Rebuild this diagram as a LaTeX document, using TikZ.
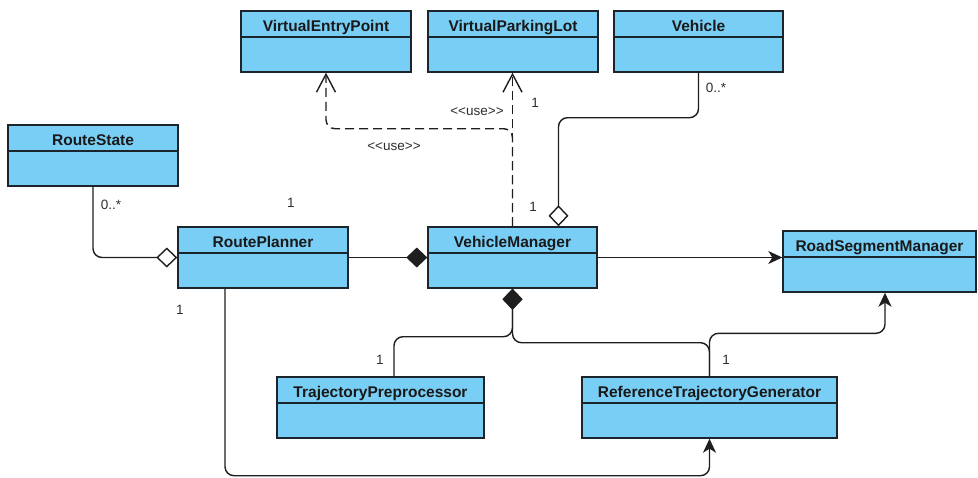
\documentclass[tikz,border=0pt]{standalone}
\usepackage{fontspec}
\setmainfont{Liberation Sans}
\usetikzlibrary{arrows.meta}
\definecolor{classfill}{RGB}{120,206,244}
\definecolor{classedge}{RGB}{28,36,44}
\definecolor{linkline}{RGB}{30,30,30}
\definecolor{multtext}{RGB}{45,45,45}
\newcommand{\stereo}[1]{<\kern0pt<#1>\kern0pt>}
\tikzset{classbox/.style={draw=classedge,fill=classfill,line width=1.4pt,
  font=\fontsize{15.5}{17}\selectfont\bfseries,text=black!90,
  inner ysep=0pt,text height=20pt,text depth=41pt,minimum width=#1,
  path picture={\draw[classedge,line width=1.4pt]
   ([yshift=-26pt]path picture bounding box.north west)--
   ([yshift=-26pt]path picture bounding box.north east);}},
 link/.style={draw=linkline,line width=1.4pt,rounded corners=9pt},
 usedep/.style={link,dash pattern=on 9pt off 5pt,-{Straight Barb[length=18pt,width=19pt]}},
 aggrend/.style={-{Diamond[fill=white,length=21pt,width=20pt]}},
 compend/.style={-{Diamond[length=21pt,width=20pt]}},
 compstart/.style={{Diamond[length=21pt,width=20pt]}-},
 navend/.style={-{Stealth[length=14pt,width=13pt,inset=4pt]}},
 mult/.style={font=\fontsize{13.5}{15}\selectfont,text=multtext,inner sep=0pt}}

\begin{document}
\begin{tikzpicture}[x=1pt,y=-1pt]
\useasboundingbox (0,0) rectangle (978,477);
\node[classbox=170pt] (vep) at (326,41.5) {VirtualEntryPoint};
\node[classbox=170pt] (vpl) at (513,41.5) {VirtualParkingLot};
\node[classbox=169pt] (veh) at (698.5,41.5) {Vehicle};
\node[classbox=170pt] (rs) at (93,155.5) {RouteState};
\node[classbox=170pt] (rp) at (263,257.5) {RoutePlanner};
\node[classbox=169pt] (vm) at (512.5,257.5) {VehicleManager};
\node[classbox=193pt] (rsm) at (879.5,261.5) {RoadSegmentManager};
\node[classbox=207pt] (tp) at (380.5,407.5) {TrajectoryPreprocessor};
\node[classbox=255pt] (rtg) at (709.5,407.5) {ReferenceTrajectoryGenerator};

\draw[usedep] (vm.north) -- (vm.north |- vpl.south);
\draw[usedep] (vm.north) |- ([yshift=-56pt]vep.south) -- (vep.south);
\draw[link,aggrend] (veh.south) -- ++(0,45) -| ([xshift=46pt]vm.north);
\draw[link,aggrend] (rs.south) |- (rp.west);
\draw[link,compend] (rp.east) -- (vm.west);
\draw[link,navend] (vm.east) -- (vm.east -| rsm.west);
\draw[link,compstart] (vm.south) -- ++(0,48) -| ([xshift=13.5pt]tp.north);
\draw[link,compstart] (vm.south) -- ++(0,54) -| (rtg.north);
\draw[link,navend] (rtg.north) -- ++(0,-43) -| ([xshift=5.5pt]rsm.south);
\draw[link,navend] ([xshift=-38pt]rp.south) -- ++(0,187) -| (rtg.south);

\node[mult] (use1) at (477,112) {\stereo{use}};
\node[mult] (use2) at (394,147) {\stereo{use}};
\node[mult] (m1) at (535,103) {1};
\node[mult] (m2) at (716,88) {0..*};
\node[mult] (m3) at (533,207) {1};
\node[mult] (m4) at (111,205) {0..*};
\node[mult] (m5) at (291,203) {1};
\node[mult] (m6) at (180,310) {1};
\node[mult] (m7) at (380,360) {1};
\node[mult] (m8) at (726,360) {1};
\end{tikzpicture}
\end{document}
